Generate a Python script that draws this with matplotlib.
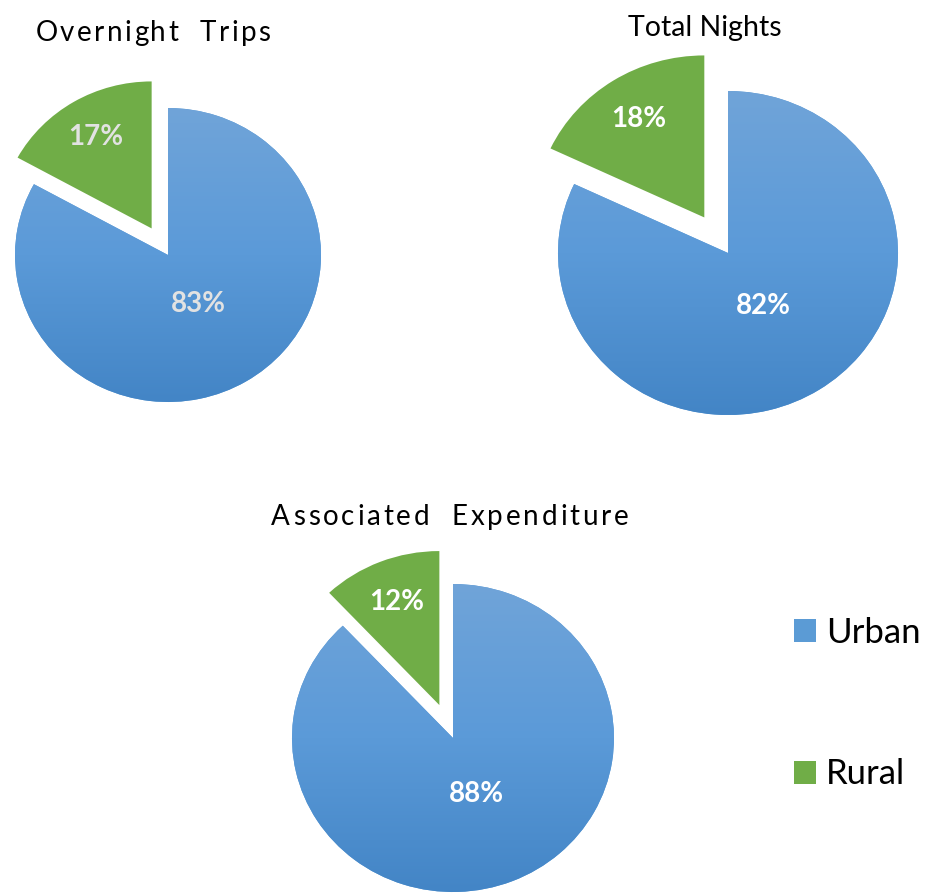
import matplotlib.pyplot as plt
import numpy as np
from matplotlib.colors import LinearSegmentedColormap
from matplotlib.patches import Patch

# data
titles = ['Overnight  Trips', 'Total Nights', 'Associated  Expenditure']
series = ['Rural', 'Urban']
rural = [17, 18, 12]
urban = [83, 82, 88]

green = '#70AD47'
blue = '#5B9BD5'
blue_grad = LinearSegmentedColormap.from_list('bg', ['#4385c6', '#5b9ad8', '#70a4d9'])

W, H = 926, 894
fig = plt.figure(figsize=(W / 100, H / 100), dpi=100)
plt.rcParams['font.family'] = ['Lato', 'DejaVu Sans']

# pixel layout of each pie: center x, center y (from bottom), rx, ry, explode
layout = [
    (168, 639, 153, 147, 0.21),
    (728, 641, 170, 162, 0.26),
    (453, 156, 161, 154, 0.23),
]
title_pos = [(153, 861), (705, 866), (450, 377)]
title_track = [2.4, 0, 2.8]   # extra letter spacing in px
pct_dist = (0.72, 0.39)
pct_color = ['#e2e2e2', 'white', 'white']


def spaced_text(xc, y, s, size, track):
    # draw text char by char so letter spacing can be widened
    renderer = fig.canvas.get_renderer()
    probe = fig.text(0, 0, 'x', fontsize=size)
    offs = []
    for k in range(len(s) + 1):
        probe.set_text('|' + s[:k] + '|')
        w = probe.get_window_extent(renderer).width
        offs.append(w + track * k)
    probe.set_text('||')
    base = probe.get_window_extent(renderer).width
    probe.remove()
    offs = [o - base for o in offs]
    total = offs[-1] - track
    x0 = xc - total / 2
    for k, ch in enumerate(s):
        if ch != ' ':
            fig.text((x0 + offs[k]) / W, y / H, ch, fontsize=size, ha='left',
                     va='center', color='black')


for i, (cx, cy, rx, ry, ex) in enumerate(layout):
    hw, hh = 1.5 * rx, 1.5 * ry
    ax = fig.add_axes([(cx - hw) / W, (cy - hh) / H, 2 * hw / W, 2 * hh / H])
    wedges, _ = ax.pie([rural[i], urban[i]], startangle=90, explode=[ex, 0],
                       colors=[green, blue], wedgeprops=dict(linewidth=0))
    # vertical gradient on the urban wedge
    grad = np.linspace(0, 1, 256).reshape(-1, 1)
    im = ax.imshow(grad, extent=(-1, 1, -1, 1), origin='lower', cmap=blue_grad,
                   aspect='auto', zorder=2)
    im.set_clip_path(wedges[1])
    ax.set_aspect('auto')
    ax.set_xlim(-1.5, 1.5)
    ax.set_ylim(-1.5, 1.5)
    ax.axis('off')

    vals = [rural[i], urban[i]]
    for w, v, d in zip(wedges, vals, pct_dist):
        ang = np.deg2rad((w.theta1 + w.theta2) / 2)
        x = w.center[0] + d * np.cos(ang)
        y = w.center[1] + d * np.sin(ang)
        ax.text(x, y, f'{v}%', ha='center', va='center', fontsize=20,
                fontweight='bold', color=pct_color[i], zorder=5)

    tx, ty = title_pos[i]
    if title_track[i] > 0:
        spaced_text(tx, ty, titles[i], 20, title_track[i])
    else:
        fig.text(tx / W, ty / H, titles[i], ha='center', va='center', fontsize=20.5,
                 color='black')

handles = [Patch(facecolor=blue, edgecolor='none'), Patch(facecolor=green, edgecolor='none')]
fig.legend(handles, ['Urban', 'Rural'], loc='upper left',
           bbox_to_anchor=(794 / W, (H - 617) / H), frameon=False, fontsize=25,
           handlelength=0.63, handleheight=0.63, handletextpad=0.3,
           labelspacing=3.15, borderpad=0, borderaxespad=0)

fig.savefig('out.png', dpi=100)
